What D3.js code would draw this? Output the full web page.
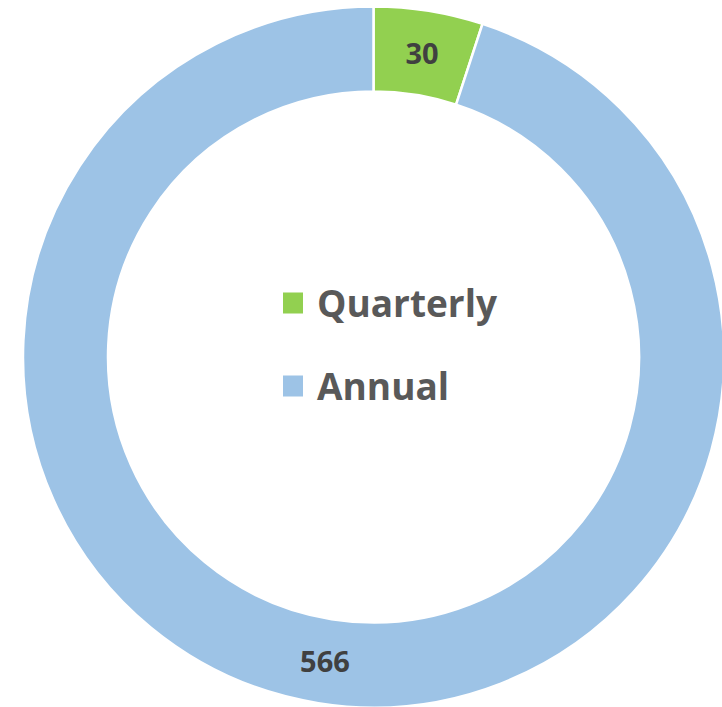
<!DOCTYPE html>
<html>
<head>
<meta charset="utf-8">
<script src="https://cdn.jsdelivr.net/npm/d3@7"></script>
<style>
  body { margin: 0; background: #fff; }
  svg { display: block; }
</style>
</head>
<body>
<div id="chart"></div>
<script>
// Data
const categories = ["Quarterly", "Annual"];
const values = [30, 566];
const colors = ["#92D050", "#9DC3E6"];

const width = 722, height = 707;
const cx = 373.5, cy = 357;
const outerR = 350.5, innerR = 265.5;

const svg = d3.select("#chart")
    .append("svg")
    .attr("width", width)
    .attr("height", height);

const g = svg.append("g")
    .attr("transform", `translate(${cx},${cy})`);

const pie = d3.pie().sort(null).value(d => d.value);
const arc = d3.arc().innerRadius(innerR).outerRadius(outerR);
const labelArc = d3.arc().innerRadius((innerR + outerR) / 2).outerRadius((innerR + outerR) / 2);

const data = categories.map((c, i) => ({ name: c, value: values[i], color: colors[i] }));
const arcs = pie(data);

// Slices
g.selectAll(".slice")
    .data(arcs)
    .enter()
    .append("path")
    .attr("class", "slice")
    .attr("d", arc)
    .attr("fill", d => d.data.color)
    .attr("stroke", "#fff")
    .attr("stroke-width", 2.5);

// Value labels
g.selectAll(".val")
    .data(arcs)
    .enter()
    .append("text")
    .attr("class", "val")
    .attr("transform", d => `translate(${labelArc.centroid(d)})`)
    .attr("text-anchor", "middle")
    .attr("dy", "0.38em")
    .style("font-family", "'Open Sans', sans-serif")
    .style("font-weight", 700)
    .style("font-size", "29px")
    .style("fill", "#404040")
    .text(d => d.data.value);

// Legend in the hole
const legend = svg.append("g")
    .attr("transform", "translate(283,0)");

const legendY = [303, 386];
const items = legend.selectAll(".item")
    .data(data)
    .enter()
    .append("g")
    .attr("class", "item")
    .attr("transform", (d, i) => `translate(0,${legendY[i]})`);

items.append("rect")
    .attr("x", 0)
    .attr("y", -10.5)
    .attr("width", 20)
    .attr("height", 21)
    .attr("fill", d => d.color);

items.append("text")
    .attr("x", 34)
    .attr("dy", "0.37em")
    .style("font-family", "'Open Sans', sans-serif")
    .style("font-weight", 700)
    .style("font-size", "37px")
    .style("fill", "#595959")
    .text(d => d.name);
</script>
</body>
</html>
